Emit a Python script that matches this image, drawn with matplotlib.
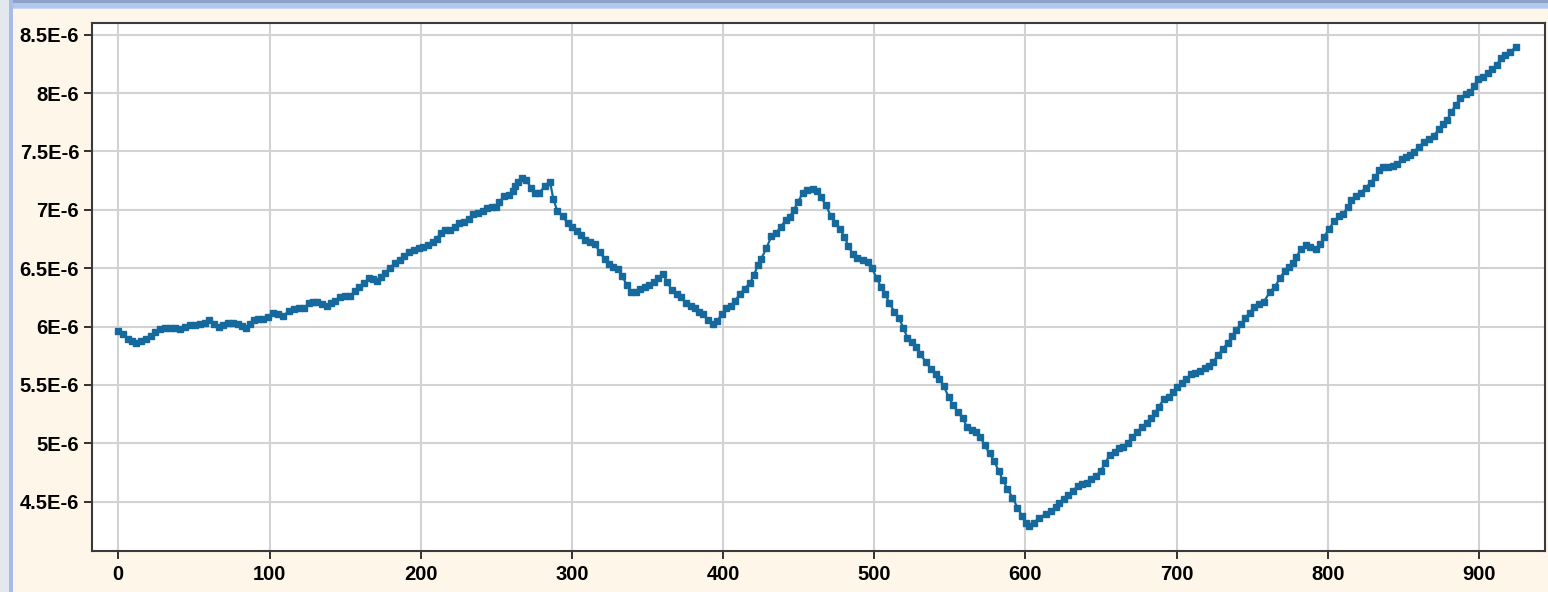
import numpy as np
import matplotlib
matplotlib.use("Agg")
import matplotlib.pyplot as plt
from matplotlib.patches import Rectangle
from matplotlib.ticker import FuncFormatter

# sample index and measured signal (in units of 1E-6)
sample_x = [
    0, 3.3, 6.6, 9.3, 11.7, 14.8, 18.1, 21.4, 24.5, 27.6, 30.9, 34.2, 37.5, 40.8, 44.1,
    47.4, 50.7, 54, 57.3, 59.9, 63.2, 66.5, 69.4, 72.7, 76, 79.3, 82.1, 84.6, 87, 89.6,
    92.7, 95.8, 99.1, 102.4, 105.7, 109, 112.9, 116, 119.5, 122.8, 126.1, 129, 131.5,
    134.8, 138.1, 141, 143.6, 146.9,
    149.9, 153.2, 156.5, 159.4, 162.5, 165.6, 168.5, 171.3, 174.0, 176.6, 179.7, 183,
    186.3, 189.2, 192.3, 195.6, 198.7, 201.8, 205.1, 208, 210.6, 213.3, 216.4, 219.5,
    222.8, 225.6, 228.7, 231.8, 234.9, 237.9, 241, 243.7, 247, 249.6, 252.1, 255.1,
    258.2, 260.9, 262.4, 264.6, 266.8, 269.7, 272.8, 275.6, 278.5, 282.2, 285.5, 287.7,
    290.3, 293.9, 297.2,
    300.3, 303.4, 306.3, 308.5, 311.8, 315.1, 318.4, 321.7, 324.6, 327.2, 330.6, 333.2,
    336.5, 339.4, 342.7, 345.3, 348.2, 351.1, 354.2, 357, 360.4, 363, 365.9, 369.2,
    372.1, 375.4, 378.5, 381.3, 384.2, 386.8, 390.1, 393, 396.1, 399.4, 402.2, 404.9,
    407.7, 411, 414.3, 417.6, 420.3, 423.1, 425.3, 428.6, 431.9, 435.2, 438.1, 441.4,
    444, 446.7, 449.5,
    452.6, 455.2, 459.2, 461.9, 464.5, 468, 471.1, 474.2, 477.3, 480.2, 482.8, 485.7,
    488.8, 492.3, 495.6, 498.3, 501.6, 504.3, 507.1, 510, 513.3, 516.4, 519.3, 521.9,
    524.8, 527.7, 530.3, 534.1, 537.6, 540.5, 543.1, 545.8, 549.1, 552, 555.3, 558.6,
    561.2, 564.5, 567.4, 570, 572.9, 576.2, 579.3, 582.2, 585, 588.1, 591.4, 594.7,
    597.6, 600.2, 602,
    605.6, 608.9, 613.3, 616.6, 619.9, 622.1, 625.4, 628.3, 631.4, 634.7, 637.6, 640.5,
    643.6, 646.4, 649.7, 652.6, 655.7, 659, 661.8, 664.7, 667.8, 670.6, 673.9, 677.2,
    680.1, 682.7, 685.6, 688.2, 691.5, 694.8, 697.6, 700.3, 703.2, 706.3, 709.6, 712.4,
    715.7, 718.6, 721.2, 724.1, 727.4, 730.5, 733.8, 736.6, 739.3,
    742.3, 745.3, 748.4, 751.4, 754.5, 757.6,
    761.6, 764.9, 768.2, 771.5, 774.4, 776.6, 779.2, 782.1, 785.4, 788.5, 792, 795.1,
    797.6, 800.9, 804.2, 807.3, 810.1, 813.4, 815.6, 818.5, 821.6, 825.1, 828.2, 831.3,
    833.9, 836.5, 839.8, 843.1, 846, 849.1, 851.9, 854.6, 856.8, 860.3, 863.6, 866.9,
    870, 873.5, 876.1, 878.8, 881.6, 884.5, 887.6, 891.1, 894.2, 896.4, 899.3, 902.6,
    905.9, 908.7, 911.8, 914.3, 917.3, 920.6, 924.2,
]
signal_e6 = [
    5.964, 5.933, 5.895, 5.878, 5.861, 5.878, 5.895, 5.921, 5.953, 5.976, 5.985, 5.985,
    5.985, 5.98, 5.993, 6.01, 6.013, 6.02, 6.027, 6.053, 6.025, 5.996, 6.013, 6.027,
    6.027, 6.02, 6.004, 5.99, 6.02, 6.053, 6.067, 6.064, 6.084, 6.113, 6.11, 6.088,
    6.135, 6.148, 6.16, 6.16, 6.199, 6.21, 6.207, 6.19, 6.175, 6.199, 6.22, 6.25,
    6.26, 6.263, 6.303, 6.34, 6.369, 6.412, 6.408, 6.391, 6.425, 6.463, 6.503, 6.545,
    6.568, 6.603, 6.64, 6.654, 6.669, 6.682, 6.697, 6.725, 6.754, 6.802, 6.831, 6.831,
    6.853, 6.891, 6.896, 6.925, 6.962, 6.976, 6.988, 7.016, 7.02, 7.02, 7.067, 7.119,
    7.125, 7.162, 7.204, 7.239, 7.27, 7.257, 7.191, 7.148, 7.148, 7.204, 7.239, 7.096,
    6.99, 6.946, 6.884,
    6.855, 6.82, 6.784, 6.744, 6.726, 6.706, 6.64, 6.575, 6.54, 6.51, 6.49, 6.43,
    6.355, 6.30, 6.30, 6.325, 6.34, 6.355, 6.383, 6.42, 6.45, 6.383, 6.317, 6.283,
    6.254, 6.203, 6.175, 6.155, 6.126, 6.107, 6.056, 6.021, 6.05, 6.107, 6.161, 6.175,
    6.218, 6.275, 6.326, 6.369, 6.44, 6.526, 6.583, 6.669, 6.774, 6.802, 6.854, 6.911,
    6.94, 6.997, 7.068,
    7.14, 7.167, 7.181, 7.158, 7.11, 7.04, 6.95, 6.884, 6.834, 6.77, 6.693, 6.622,
    6.59, 6.57, 6.55, 6.505, 6.414, 6.342, 6.28, 6.20, 6.128, 6.071, 5.986, 5.905,
    5.871, 5.828, 5.762, 5.699, 5.634, 5.591, 5.55, 5.493, 5.399, 5.328, 5.265, 5.214,
    5.142, 5.114, 5.099, 5.057, 4.986, 4.914, 4.849, 4.763, 4.686, 4.609, 4.535, 4.449,
    4.381, 4.315, 4.295,
    4.321, 4.358, 4.395, 4.42, 4.452, 4.486, 4.521, 4.557, 4.594, 4.637, 4.651, 4.662,
    4.691, 4.72, 4.762, 4.828, 4.899, 4.928, 4.957, 4.966, 5.005, 5.051, 5.099, 5.142,
    5.176, 5.214, 5.257, 5.313, 5.379, 5.399, 5.442, 5.485, 5.514, 5.548, 5.591, 5.605,
    5.62, 5.643, 5.662, 5.699, 5.756, 5.808, 5.861, 5.918, 5.97,
    6.02, 6.07, 6.12, 6.17, 6.19, 6.21,
    6.297, 6.34, 6.412, 6.478, 6.506, 6.545, 6.597, 6.662, 6.697, 6.682, 6.662, 6.705,
    6.768, 6.84, 6.902, 6.945, 6.968, 7.025, 7.083, 7.117, 7.146, 7.189, 7.231, 7.283,
    7.34, 7.363, 7.363, 7.377, 7.39, 7.432, 7.455, 7.469, 7.497, 7.54, 7.583, 7.606,
    7.635, 7.69, 7.732, 7.769, 7.835, 7.898, 7.955, 7.992, 8.006, 8.06, 8.117, 8.14,
    8.169, 8.203, 8.24, 8.298, 8.326, 8.349, 8.397,
]
x_ticks = [0, 100, 200, 300, 400, 500, 600, 700, 800, 900]
y_ticks_e6 = [4.5, 5.0, 5.5, 6.0, 6.5, 7.0, 7.5, 8.0, 8.5]

plt.rcParams["font.family"] = ["Liberation Sans", "DejaVu Sans"]
plt.rcParams["font.weight"] = "bold"

W, H = 1548, 592
fig = plt.figure(figsize=(W / 100, H / 100), dpi=100, facecolor="#FEF6E8")

# window frame: title strip along the top, border along the left
def px_rect(x0, y0, w, h, color):
    fig.add_artist(Rectangle((x0 / W, 1 - (y0 + h) / H), w / W, h / H,
                             transform=fig.transFigure, color=color, lw=0, zorder=0))

px_rect(0, 0, W, 8, "#B3C6EC")
px_rect(0, 0, W, 3, "#8DA2CB")
px_rect(0, 8, W, 1, "#C9D6EF")
px_rect(0, 0, 9, H, "#E3E7EE")
px_rect(9, 0, 4, H, "#A7BDE6")

ax = fig.add_axes([91.7 / W, 1 - 550.7 / H, (1545 - 91.7) / W, (550.7 - 22.7) / H])
ax.set_facecolor("white")
ax.plot(np.array(sample_x), np.array(signal_e6) * 1e-6, color="#16699C", lw=1.6,
        marker="s", ms=3.7, mec="#16699C", mfc="#16699C")

ax.set_xlim(-17.6, 943.6)
ax.set_ylim(4.08e-6, 8.603e-6)
ax.set_xticks(x_ticks)
ax.set_yticks(np.array(y_ticks_e6) * 1e-6)
ax.yaxis.set_major_formatter(FuncFormatter(lambda v, pos: f"{v * 1e6:g}E-6"))

ax.grid(True, color="#D2D2D2", lw=1.5)
ax.set_axisbelow(True)
for spine in ax.spines.values():
    spine.set_color("#3A3A3A")
    spine.set_linewidth(1.5)

ax.tick_params(axis="both", direction="out", length=5.5, width=1.3, color="#222222",
               labelsize=14.5, labelcolor="black")
ax.tick_params(axis="x", pad=5)
ax.tick_params(axis="y", pad=3.5)

fig.savefig("out.png", dpi=100, facecolor=fig.get_facecolor())
